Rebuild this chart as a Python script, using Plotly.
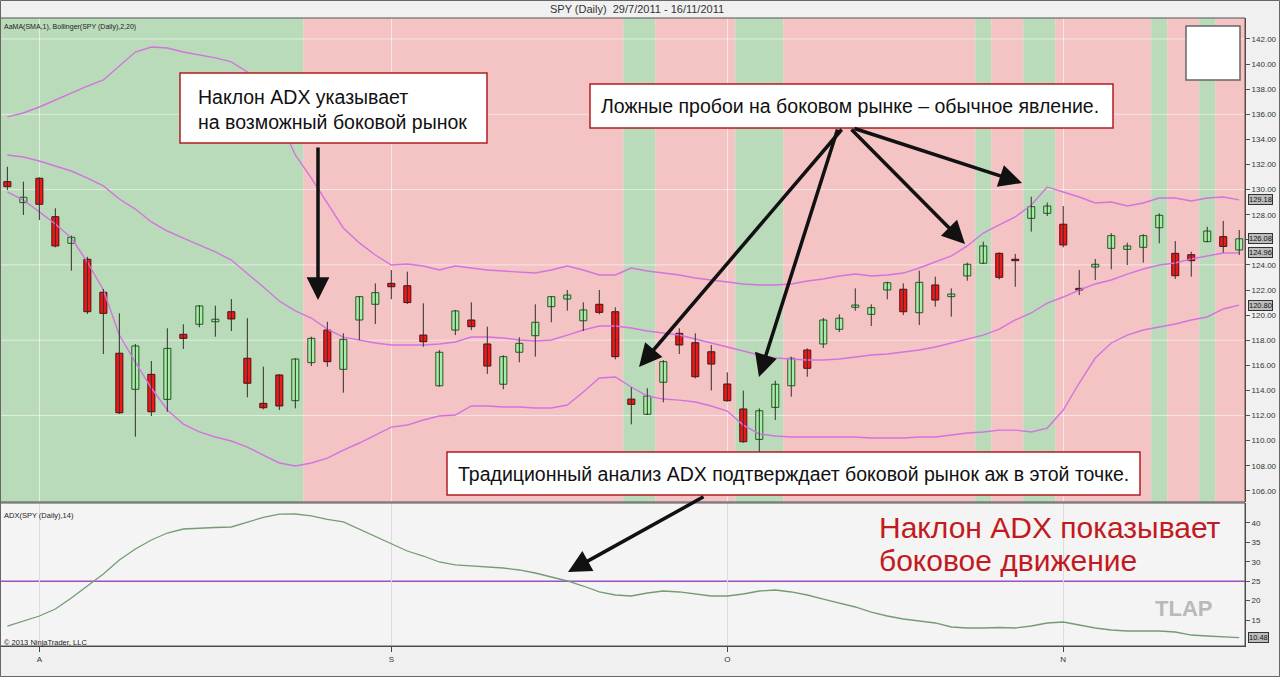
import plotly.graph_objects as go

# ---------------- DATA ----------------
month_pos = [2, 24, 45, 66]
month_lbl = ["A", "S", "O", "N"]
price_ticks = list(range(106, 143, 2))
adx_ticks = [15, 20, 25, 30, 35, 40]
adx_level = 25
price_grid = [112, 118, 124, 130, 136, 142]

opens = [130.63, 128.96, 130.90, 127.84, 125.72, 124.45, 121.82, 116.96, 114.09, 115.28,
         113.29, 118.47, 119.27, 119.47, 120.27, 116.56, 112.97, 115.23, 113.18, 116.21,
         118.81, 115.68, 119.61, 120.86, 122.53, 122.34, 118.41, 114.37, 118.81, 119.61,
         117.70, 114.49, 117.04, 118.36, 120.67, 121.28, 119.55, 120.86, 120.27, 113.31,
         112.10, 114.65, 118.55, 117.80, 117.08, 114.51, 112.52, 110.10, 112.65, 114.37,
         117.22, 117.70, 118.87, 120.62, 120.06, 122.00, 122.06, 120.19, 122.40, 121.47,
         123.12, 124.13, 124.92, 124.45, 127.71, 128.11, 127.24, 122.13, 123.83, 125.32,
         125.24, 125.40, 126.96, 124.92, 124.81, 125.85, 126.25, 125.19]
highs = [131.82, 130.63, 130.98, 128.51, 126.33, 124.65, 122.08, 120.14, 117.70, 116.34,
         118.95, 119.27, 120.80, 120.75, 121.28, 119.75, 115.89, 115.30, 116.56, 118.28,
         119.47, 118.55, 121.50, 122.53, 123.59, 123.46, 120.94, 117.22, 120.41, 121.02,
         119.08, 116.80, 118.23, 120.86, 121.50, 122.00, 121.02, 122.00, 120.62, 114.25,
         114.17, 116.42, 118.95, 118.55, 117.62, 115.44, 113.98, 112.57, 114.77, 116.69,
         117.35, 119.77, 120.06, 122.13, 120.86, 122.66, 122.53, 123.54, 123.06, 122.13,
         124.18, 125.85, 125.00, 124.87, 129.43, 128.96, 128.69, 123.59, 124.47, 126.52,
         125.77, 126.44, 128.11, 125.90, 125.05, 127.04, 127.50, 126.78]
lows = [129.97, 127.98, 127.58, 125.40, 123.54, 120.09, 116.90, 112.12, 110.31, 111.96,
        112.30, 117.30, 119.03, 118.28, 118.73, 113.45, 112.49, 112.44, 112.57, 115.94,
        115.89, 113.82, 118.02, 119.29, 121.26, 120.88, 117.48, 114.30, 118.41, 118.81,
        115.31, 114.09, 116.24, 116.69, 119.43, 120.35, 118.73, 120.06, 116.48, 111.30,
        112.04, 113.05, 116.90, 114.96, 114.00, 113.10, 109.83, 107.45, 111.64, 113.50,
        115.09, 117.38, 118.65, 120.35, 119.13, 121.26, 120.00, 119.21, 120.67, 119.87,
        122.74, 124.07, 122.85, 122.26, 126.65, 127.90, 125.40, 121.60, 122.80, 123.65,
        123.99, 124.18, 125.72, 122.88, 123.06, 125.80, 124.99, 124.79]
closes = [130.23, 129.39, 128.83, 125.51, 126.20, 120.27, 120.14, 112.22, 117.54, 112.30,
          117.35, 118.15, 120.73, 119.67, 119.69, 114.57, 112.62, 112.76, 116.50, 118.15,
          116.29, 118.07, 121.47, 121.79, 122.26, 121.00, 117.88, 117.04, 120.33, 119.08,
          115.94, 116.69, 117.75, 119.43, 121.47, 121.60, 120.41, 120.22, 116.69, 112.89,
          113.55, 116.29, 117.62, 115.09, 116.10, 113.18, 109.91, 112.38, 114.49, 116.56,
          115.76, 119.61, 119.75, 120.80, 120.59, 122.58, 120.27, 122.61, 121.20, 121.68,
          124.05, 125.51, 123.01, 124.34, 128.64, 128.69, 125.59, 122.00, 124.05, 126.33,
          125.51, 126.33, 127.95, 123.14, 124.34, 126.70, 125.47, 126.08]

bb_upper = [135.79, 136.10, 136.58, 137.14, 137.70, 138.25, 138.73, 139.85, 140.96, 141.36,
            141.28, 140.96, 140.73, 140.49, 140.17, 139.37, 137.94, 135.55, 132.76, 130.92,
            128.93, 126.94, 125.75, 124.79, 123.99, 124.07, 123.91, 123.59, 123.91, 123.75,
            123.59, 123.51, 123.43, 123.35, 123.59, 123.91, 123.59, 123.20, 123.20, 123.75,
            123.51, 123.35, 123.20, 122.96, 122.80, 122.64, 122.48, 122.40, 122.40, 122.48,
            122.72, 122.88, 123.12, 123.27, 123.12, 123.20, 123.35, 123.75, 124.23, 124.71,
            125.51, 126.54, 127.18, 127.82, 128.77, 130.21, 129.81, 129.41, 128.93, 129.01,
            128.69, 128.93, 129.33, 129.33, 129.09, 129.33, 129.41, 129.18]
bb_mid = [132.76, 132.60, 132.28, 131.88, 131.48, 130.92, 130.29, 129.25, 128.45, 127.42,
          126.70, 126.14, 125.59, 125.03, 124.39, 123.35, 122.24, 121.12, 120.33, 119.77,
          118.89, 118.25, 118.02, 117.78, 117.62, 117.62, 117.62, 117.70, 117.86, 118.25,
          118.25, 118.18, 118.02, 117.94, 118.02, 118.41, 118.81, 119.13, 119.13, 118.97,
          118.73, 118.57, 118.41, 118.10, 117.78, 117.46, 117.14, 116.82, 116.58, 116.50,
          116.42, 116.42, 116.50, 116.66, 116.82, 116.90, 117.06, 117.22, 117.46, 117.78,
          118.10, 118.41, 118.89, 119.61, 120.17, 120.96, 121.44, 122.00, 122.48, 122.80,
          123.27, 123.67, 123.99, 124.15, 124.47, 124.71, 124.95, 124.96]
bb_lower = [129.81, 129.17, 128.22, 127.26, 126.14, 124.23, 122.00, 118.41, 116.26, 114.19,
            112.44, 111.32, 110.69, 110.29, 109.97, 109.49, 108.85, 108.22, 107.98, 108.22,
            108.61, 109.25, 109.81, 110.45, 111.08, 111.24, 111.64, 111.96, 112.04, 112.76,
            112.76, 112.68, 112.68, 112.60, 112.60, 112.84, 113.87, 114.99, 115.07, 114.27,
            113.55, 113.31, 113.23, 113.08, 112.76, 112.36, 111.24, 110.53, 110.37, 110.29,
            110.29, 110.29, 110.29, 110.29, 110.21, 110.21, 110.21, 110.29, 110.29, 110.45,
            110.61, 110.69, 110.84, 110.84, 110.69, 111.00, 112.44, 114.59, 116.58, 117.78,
            118.41, 118.81, 119.05, 119.29, 119.61, 119.85, 120.49, 120.80]

adx = [13.45, 14.74, 16.03, 17.84, 20.67, 23.76, 26.86, 30.46, 33.30, 35.62,
       37.42, 38.45, 38.71, 38.84, 38.97, 40.18, 41.44, 42.27, 42.32, 41.86,
       40.95, 40.26, 38.38, 36.49, 34.59, 32.78, 31.49, 29.95, 29.18, 28.92,
       28.66, 28.40, 27.89, 27.11, 26.08, 25.05, 23.76, 22.22, 21.44, 21.19,
       21.96, 22.47, 22.22, 21.70, 21.19, 21.19, 21.70, 22.47, 22.73, 22.22,
       21.44, 20.41, 19.38, 18.35, 17.06, 16.03, 15.26, 14.74, 14.23, 13.20,
       12.94, 12.94, 13.07, 12.94, 13.45, 14.23, 14.48, 13.71, 12.94, 12.42,
       12.16, 12.16, 12.16, 11.91, 11.13, 10.88, 10.62, 10.48]

# G = trend (green), R = sideways (pink)
regime = list("GGGGGGGGGGGGGGGGGGG" "RRRRRRRRRRRRRRRRRRRR" "GG" "RRRRR" "GGG"
              "RRRRRRRRRRRR" "G" "RR" "GG" "RRRRRR" "G" "RR" "G" "RR")

# ---------------- LAYOUT HELPERS ----------------
W, H = 1280, 677
ML, MR, MT, MB = 0, 35, 18, 31


def px(x):
    return (x - ML) / (W - ML - MR)


def py(y):
    return (H - MB - y) / (H - MT - MB)


MAIN_DOM = [py(502), 1.0]
ADX_DOM = [0.0, py(503)]
X_RANGE = [-0.46, 77.36]
Y_RANGE = [105.11, 143.67]
ADX_RANGE = [8.30, 45.15]
PX_PER_UNIT = (502 - 18) / (Y_RANGE[1] - Y_RANGE[0])

FONT = "Liberation Sans, Arial, sans-serif"
GREEN_BG = "#badbb9"
PINK_BG = "#f4c3c4"
BAND = "#d373e0"

fig = go.Figure()
n = len(closes)
xs = list(range(n))

# Bollinger lines
for band in (bb_upper, bb_mid, bb_lower):
    fig.add_trace(go.Scatter(x=xs, y=band, mode="lines", line=dict(color=BAND, width=1.4),
                             xaxis="x", yaxis="y", hoverinfo="skip", showlegend=False))

# wicks
wx, wy = [], []
for i in xs:
    wx += [i, i, None]
    wy += [lows[i], highs[i], None]
fig.add_trace(go.Scatter(x=wx, y=wy, mode="lines", line=dict(color="#2f2f2f", width=1),
                         xaxis="x", yaxis="y", hoverinfo="skip", showlegend=False))

up = [i for i in xs if closes[i] >= opens[i]]
dn = [i for i in xs if closes[i] < opens[i]]


def bodies(idx):
    base = [min(opens[i], closes[i]) for i in idx]
    hgt = [max(abs(closes[i] - opens[i]), 0.09) for i in idx]
    return base, hgt


b, h = bodies(up)
fig.add_trace(go.Bar(x=up, y=h, base=b, width=0.44,
                     marker=dict(color="#a6eea6", line=dict(color="#1f5a1f", width=1)),
                     xaxis="x", yaxis="y", hoverinfo="skip", showlegend=False))
b, h = bodies(dn)
fig.add_trace(go.Bar(x=dn, y=h, base=b, width=0.44,
                     marker=dict(color="#f01818", line=dict(color="#4a1010", width=1)),
                     xaxis="x", yaxis="y", hoverinfo="skip", showlegend=False))

# ADX
fig.add_trace(go.Scatter(x=xs, y=adx, mode="lines", line=dict(color="#749c74", width=1.3),
                         xaxis="x2", yaxis="y2", hoverinfo="skip", showlegend=False))

shapes = []
# regime background
start = 0
for i in range(1, n + 1):
    if i == n or regime[i] != regime[start]:
        x0 = max(start - 0.5, X_RANGE[0])
        x1 = min(i - 0.5, X_RANGE[1])
        shapes.append(dict(type="rect", xref="x", yref="y domain", x0=x0, x1=x1, y0=0, y1=1,
                           fillcolor=GREEN_BG if regime[start] == "G" else PINK_BG,
                           line=dict(width=0), layer="below"))
        start = i
# horizontal gridlines main
for g in price_grid:
    shapes.append(dict(type="line", xref="x domain", yref="y", x0=0, x1=1, y0=g, y1=g,
                       line=dict(color="rgba(255,255,255,0.55)", width=1), layer="below"))
# ADX level line
shapes.append(dict(type="line", xref="x2 domain", yref="y2", x0=0, x1=1, y0=adx_level, y1=adx_level,
                   line=dict(color="#9b4fc0", width=1.5), layer="below"))
# panel frames
shapes.append(dict(type="rect", xref="x domain", yref="y domain", x0=0, x1=1, y0=0, y1=1,
                   line=dict(color="#555555", width=1), layer="above"))
shapes.append(dict(type="rect", xref="x2 domain", yref="y2 domain", x0=0, x1=1, y0=0, y1=1,
                   line=dict(color="#555555", width=1), layer="above"))
# top-right white box
shapes.append(dict(type="rect", xref="paper", yref="paper", x0=px(1186), x1=px(1240), y0=py(80), y1=py(26),
                   fillcolor="white", line=dict(color="#666666", width=1.5), layer="above"))
# text boxes
for (x0, y0, x1, y1) in [(180, 73, 487, 143), (590, 84, 1113, 128), (447, 452, 1140, 495)]:
    shapes.append(dict(type="rect", xref="paper", yref="paper", x0=px(x0), x1=px(x1), y0=py(y1), y1=py(y0),
                       fillcolor="white", line=dict(color="#b01c22", width=1.5), layer="above"))
# outer frame
shapes.append(dict(type="rect", xref="paper", yref="paper", x0=px(0.5), x1=px(1279.5), y0=py(676.5), y1=py(0.5),
                   line=dict(color="#666666", width=1), layer="above"))

ann = []


def text(x, y, s, size, color="#111111", xanchor="left", bold=False):
    ann.append(dict(x=px(x), y=py(y), xref="paper", yref="paper", text=("<b>%s</b>" % s) if bold else s,
                    showarrow=False, xanchor=xanchor, yanchor="middle",
                    font=dict(family=FONT, size=size, color=color)))


text(637, 9, "SPY (Daily)  29/7/2011 - 16/11/2011", 11, "#333333", "center")
text(2, 27, "AaMA(SMA,1), Bollinger(SPY (Daily),2,20)", 7, "#222222")
text(2, 515, "ADX(SPY (Daily),14)", 7.5, "#222222")
text(2, 642, "© 2013 NinjaTrader, LLC", 7.5, "#222222")
text(196, 97, "Наклон ADX указывает", 19.5)
text(196, 122, "на возможный боковой рынок", 19.5)
text(599, 106, "Ложные пробои на боковом рынке – обычное явление.", 19.5)
text(456, 474, "Традиционный анализ ADX подтверждает боковой рынок аж в этой точке.", 19.5)
text(877, 527, "Наклон ADX показывает", 30, "#c21a20")
text(877, 560, "боковое движение", 30, "#c21a20")
text(1183, 608, "TLAP", 22, "#b9b9b9", "center", bold=True)

# arrows (tail -> head) in pixels
for (tx, ty, hx, hy) in [(318, 146, 318, 300), (843, 128, 639, 367), (838, 128, 759, 377),
                         (850, 128, 965, 244), (853, 128, 1022, 183), (705, 496, 568, 572)]:
    ann.append(dict(x=px(hx), y=py(hy), xref="paper", yref="paper", ax=tx - hx, ay=ty - hy,
                    text="", showarrow=True, arrowhead=2, arrowsize=1.3, arrowwidth=3.5,
                    arrowcolor="#111111"))

# price tags on the right axis
tag_vals = [bb_upper[-1], closes[-1], bb_mid[-1], bb_lower[-1]]
for val in tag_vals:
    ann.append(dict(x=1.0, y=val, xref="paper", yref="y", text="%.2f" % val, showarrow=False,
                    xanchor="left", yanchor="middle", xshift=3,
                    font=dict(family=FONT, size=7.5, color="#111111"),
                    bgcolor="#bdbdbd", bordercolor="#333333", borderwidth=1, borderpad=0))
ann.append(dict(x=1.0, y=adx[-1], xref="paper", yref="y2", text="%.2f" % adx[-1], showarrow=False,
                xanchor="left", yanchor="middle", xshift=3,
                font=dict(family=FONT, size=7.5, color="#111111"),
                bgcolor="#bdbdbd", bordercolor="#333333", borderwidth=1, borderpad=0))

# tick labels hidden where a price tag covers them (as in the reference)
price_ticktext = []
for v in price_ticks:
    covered = any(abs(v - t) * PX_PER_UNIT < 8 for t in tag_vals)
    price_ticktext.append("" if covered else "%.2f" % v)

fig.update_layout(
    width=W, height=H,
    margin=dict(l=ML, r=MR, t=MT, b=MB),
    paper_bgcolor="#f0f0f0", plot_bgcolor="#f4f4f4",
    barmode="overlay", showlegend=False,
    font=dict(family=FONT, size=8, color="#333333"),
    xaxis=dict(domain=[0, 1], anchor="y", range=X_RANGE, tickvals=month_pos, showticklabels=False,
               ticks="", showgrid=True, gridcolor="rgba(255,255,255,0.55)", gridwidth=1,
               zeroline=False, showline=False, matches="x2"),
    yaxis=dict(domain=MAIN_DOM, anchor="x", range=Y_RANGE, side="right", tickvals=price_ticks,
               ticktext=price_ticktext, ticks="outside", ticklen=4, tickcolor="#555555",
               tickfont=dict(size=8, color="#333333"), showgrid=False, zeroline=False,
               showline=True, linecolor="#7a3030", linewidth=1),
    xaxis2=dict(domain=[0, 1], anchor="y2", range=X_RANGE, tickvals=month_pos, ticktext=month_lbl,
                ticks="outside", ticklen=5, tickcolor="#444444", tickfont=dict(size=8, color="#333333"),
                showgrid=True, gridcolor="#dddddd", zeroline=False, showline=True, linecolor="#444444"),
    yaxis2=dict(domain=ADX_DOM, anchor="x2", range=ADX_RANGE, side="right", tickvals=adx_ticks,
                ticktext=[str(v) for v in adx_ticks], ticks="outside", ticklen=4, tickcolor="#555555",
                tickfont=dict(size=8, color="#333333"), showgrid=False, zeroline=False,
                showline=True, linecolor="#444444"),
    shapes=shapes, annotations=ann,
)

fig.write_html("out.html")
